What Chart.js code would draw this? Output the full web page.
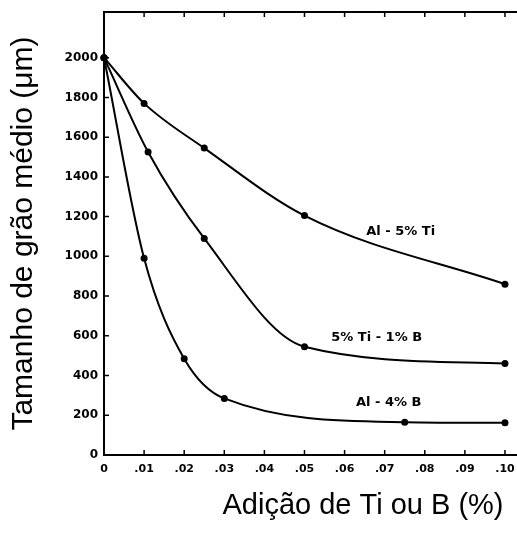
<!DOCTYPE html>
<html>
<head>
<meta charset="utf-8">
<script src="https://cdn.jsdelivr.net/npm/chart.js@4.4.0/dist/chart.umd.min.js"></script>
<style>
  html, body { margin: 0; padding: 0; background: #fff; }
</style>
</head>
<body>
<canvas id="grainChart" width="517" height="536"></canvas>
<script>
// Al - 5% Ti
const xAlTi = [0, 0.01, 0.025, 0.05, 0.10];
const yAlTi = [2000, 1770, 1545, 1205, 860];
// 5% Ti - 1% B
const xTiB = [0, 0.011, 0.025, 0.05, 0.10];
const yTiB = [2000, 1525, 1090, 545, 460];
// Al - 4% B
const xAlB = [0, 0.01, 0.02, 0.03, 0.075, 0.10];
const yAlB = [2000, 990, 485, 285, 165, 162];

const curveNames = ["Al - 5% Ti", "5% Ti - 1% B", "Al - 4% B"];
const nameX = [0.074, 0.068, 0.071];
const nameY = [1123, 589, 262];

const xTicks = [0, 0.01, 0.02, 0.03, 0.04, 0.05, 0.06, 0.07, 0.08, 0.09, 0.10];
const yTicks = [0, 200, 400, 600, 800, 1000, 1200, 1400, 1600, 1800, 2000];

const toPoints = (xs, ys) => xs.map((x, i) => ({ x: x, y: ys[i] }));

const lineStyle = {
  borderColor: "#000",
  borderWidth: 2,
  backgroundColor: "#000",
  pointBackgroundColor: "#000",
  pointBorderWidth: 0,
  pointRadius: 3.5,
  cubicInterpolationMode: "monotone",
  clip: false,
};

// inward ticks, frame lines, curve names and x title
const frameDecor = {
  id: "frameDecor",
  afterDraw(chart) {
    const { ctx, chartArea: a, scales: { x, y } } = chart;
    ctx.save();
    ctx.strokeStyle = "#000";
    ctx.lineWidth = 2;
    ctx.beginPath();
    ctx.moveTo(a.left, a.top);
    ctx.lineTo(chart.width, a.top);
    ctx.moveTo(a.right, a.bottom);
    ctx.lineTo(chart.width, a.bottom);
    ctx.stroke();

    ctx.lineWidth = 1.5;
    ctx.beginPath();
    x.ticks.forEach((t) => {
      const px = x.getPixelForValue(t.value);
      ctx.moveTo(px, a.bottom);
      ctx.lineTo(px, a.bottom - 5);
      ctx.moveTo(px, a.top);
      ctx.lineTo(px, a.top + 5);
    });
    y.ticks.forEach((t) => {
      const py = y.getPixelForValue(t.value);
      ctx.moveTo(a.left, py);
      ctx.lineTo(a.left + 5, py);
    });
    ctx.stroke();

    ctx.fillStyle = "#000";
    ctx.font = "bold 13px 'DejaVu Sans'";
    ctx.textAlign = "center";
    ctx.textBaseline = "middle";
    curveNames.forEach((name, i) => {
      ctx.fillText(name, x.getPixelForValue(nameX[i]), y.getPixelForValue(nameY[i]));
    });

    ctx.font = "29px 'Liberation Sans'";
    ctx.textBaseline = "alphabetic";
    ctx.fillText("Adição de Ti ou B (%)", 363, 514);
    ctx.restore();
  },
};

new Chart(document.getElementById("grainChart").getContext("2d"), {
  type: "line",
  data: {
    datasets: [
      { label: curveNames[0], data: toPoints(xAlTi, yAlTi), ...lineStyle },
      { label: curveNames[1], data: toPoints(xTiB, yTiB), ...lineStyle },
      { label: curveNames[2], data: toPoints(xAlB, yAlB), ...lineStyle },
    ],
  },
  options: {
    responsive: false,
    animation: false,
    layout: { padding: { top: 12, right: 0, left: 0, bottom: 0 } },
    plugins: { legend: { display: false }, tooltip: { enabled: false } },
    scales: {
      x: {
        type: "linear",
        min: 0,
        max: 0.102,
        grid: { display: false, drawTicks: false },
        border: { display: true, color: "#000", width: 2 },
        afterBuildTicks: (scale) => {
          scale.ticks = xTicks.map((v) => ({ value: v }));
        },
        afterFit: (scale) => {
          scale.height = 81;
          scale.paddingLeft = 0;
          scale.paddingRight = 0;
        },
        ticks: {
          padding: 8,
          color: "#000",
          maxRotation: 0,
          font: { family: "DejaVu Sans", size: 11, weight: "bold" },
          callback: (v) => (v === 0 ? "0" : "." + String(Math.round(v * 100)).padStart(2, "0")),
        },
      },
      y: {
        type: "linear",
        min: 0,
        max: 2230,
        grid: { display: false, drawTicks: false },
        border: { display: true, color: "#000", width: 2 },
        afterBuildTicks: (scale) => {
          scale.ticks = yTicks.map((v) => ({ value: v }));
        },
        afterFit: (scale) => {
          scale.width = 104;
          scale.paddingTop = 0;
          scale.paddingBottom = 0;
        },
        ticks: {
          padding: 6,
          color: "#000",
          font: { family: "DejaVu Sans", size: 12, weight: "bold" },
          callback: (v) => String(v),
        },
        title: {
          display: true,
          text: "Tamanho de grão médio (μm)",
          color: "#000",
          padding: { top: 6, bottom: 0 },
          font: { family: "Liberation Sans", size: 30 },
        },
      },
    },
  },
  plugins: [frameDecor],
});
</script>
</body>
</html>
